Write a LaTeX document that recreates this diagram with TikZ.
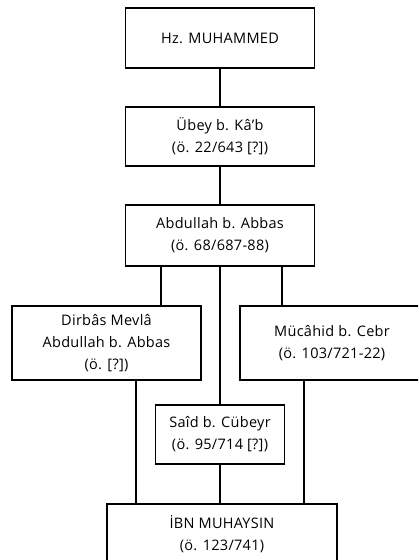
\documentclass[tikz,border=0pt]{standalone}
\usepackage{fontspec}
\setmainfont[LetterSpace=2]{Open Sans}
\begin{document}
\begin{tikzpicture}[x=1pt,y=1pt,
  box/.style={draw=black, line width=1.4pt, rectangle, inner sep=0pt, align=center,
    font=\fontsize{14.5}{22}\selectfont},
  link/.style={draw=black, line width=1.6pt}]
\useasboundingbox (0,0) rectangle (418,560);
\clip (0,0) rectangle (418,560);
\node[box, minimum width=189, minimum height=60] (hz) at (220,522) {Hz. MUHAMMED};
\node[box, minimum width=189, minimum height=59] (ubey) at (220,423.5) {Übey b. Kâ’b\\(ö. 22/643 [?])};
\node[box, minimum width=189, minimum height=61] (abd) at (220,324.5) {Abdullah b. Abbas\\(ö. 68/687-88)};
\node[box, minimum width=189, minimum height=74] (dir) at (106.5,217) {Dirbâs Mevlâ\\Abdullah b. Abbas\\(ö. [?])};
\node[box, minimum width=184, minimum height=74] (muc) at (332,217) {Mücâhid b. Cebr\\(ö. 103/721-22)};
\node[box, minimum width=129, minimum height=59] (said) at (220,125.5) {Saîd b. Cübeyr\\(ö. 95/714 [?])};
\node[box, minimum width=230, minimum height=60] (ibn) at (222,26) {İBN MUHAYSIN\\(ö. 123/741)};
\draw[link] (hz.south) -- (ubey.north);
\draw[link] (ubey.south) -- (abd.north);
\draw[link] (abd.south -| 161,0) -- (161,0 |- dir.north);
\draw[link] (abd.south) -- (said.north);
\draw[link] (abd.south -| 282,0) -- (282,0 |- muc.north);
\draw[link] (dir.south -| 136,0) -- (136,0 |- ibn.north);
\draw[link] (said.south) -- (said.south |- ibn.north);
\draw[link] (muc.south -| 304,0) -- (304,0 |- ibn.north);
\end{tikzpicture}
\end{document}
